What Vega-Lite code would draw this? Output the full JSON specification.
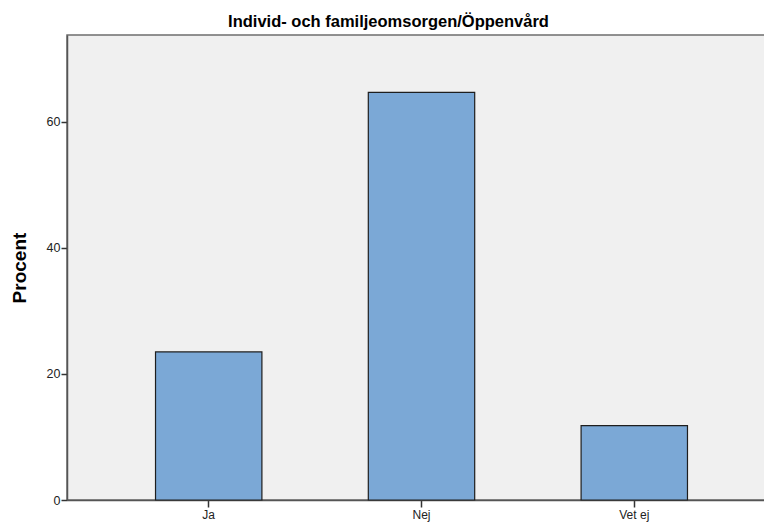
{
  "$schema": "https://vega.github.io/schema/vega-lite/v6.json",
  "autosize": "none",
  "width": 709,
  "height": 465,
  "padding": {"left": 67, "top": 35, "right": 0, "bottom": 25},
  "background": "white",
  "title": {
    "text": "Individ- och familjeomsorgen/Öppenvård",
    "font": "Liberation Sans",
    "fontSize": 16.5,
    "fontWeight": "bold",
    "color": "#000000",
    "anchor": "middle",
    "frame": "group",
    "dx": -33,
    "offset": 5
  },
  "config": {
    "view": {"fill": "#f0f0f0", "stroke": "#6e6e6e", "strokeWidth": 1.5},
    "axis": {
      "labelFont": "Liberation Sans",
      "titleFont": "Liberation Sans",
      "labelColor": "#222222",
      "domainColor": "#555555",
      "domainWidth": 1.5,
      "tickColor": "#333333",
      "tickWidth": 1.5,
      "grid": false
    }
  },
  "data": {
    "values": [
      {"svar": "Ja", "procent": 23.5},
      {"svar": "Nej", "procent": 64.7},
      {"svar": "Vet ej", "procent": 11.8}
    ]
  },
  "mark": {"type": "bar", "fill": "#7ba8d6", "stroke": "#1e1e1e", "strokeWidth": 1.2},
  "encoding": {
    "x": {
      "field": "svar",
      "type": "nominal",
      "sort": ["Ja", "Nej", "Vet ej"],
      "scale": {"paddingInner": 0.5, "paddingOuter": 0.416},
      "axis": {"title": null, "labelAngle": 0, "labelFontSize": 12, "labelPadding": 2, "tickSize": 7}
    },
    "y": {
      "field": "procent",
      "type": "quantitative",
      "scale": {"domain": [0, 73.8], "nice": false},
      "axis": {
        "title": "Procent",
        "titleFontSize": 19,
        "titleFontWeight": "bold",
        "titleColor": "#000000",
        "titlePadding": 17,
        "values": [0, 20, 40, 60],
        "labelFontSize": 12.5,
        "labelPadding": 1,
        "tickSize": 6
      }
    }
  }
}
